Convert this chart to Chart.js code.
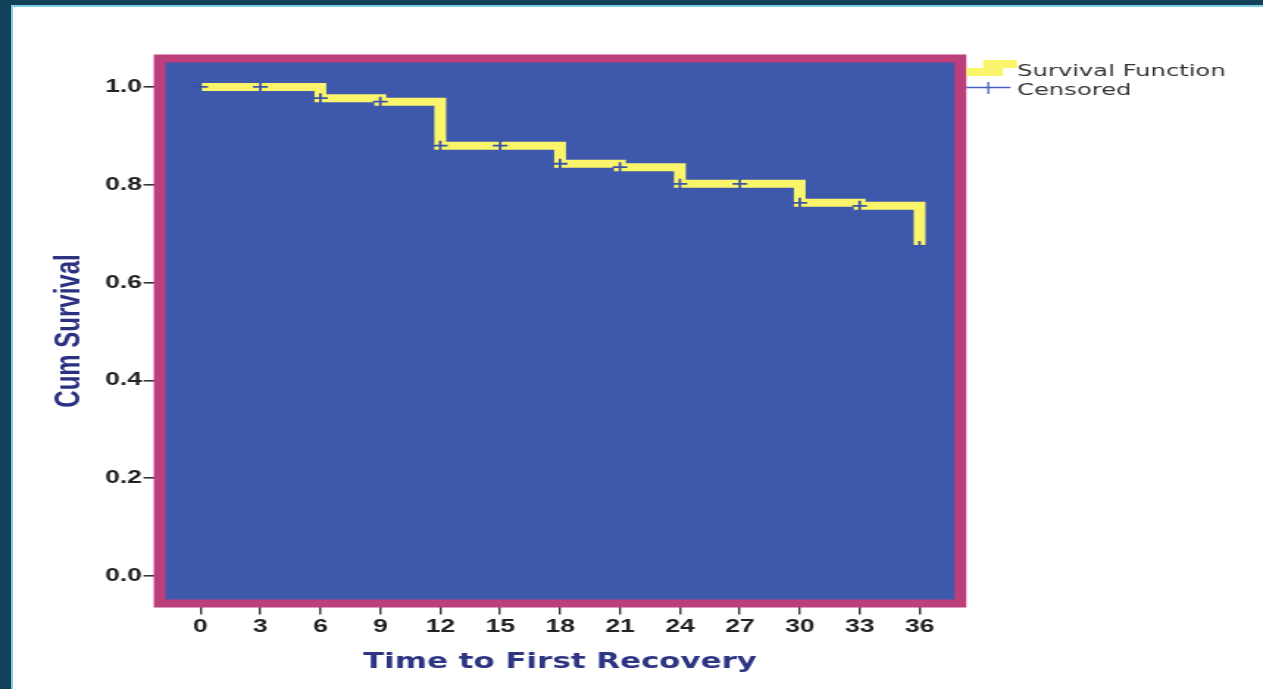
<!DOCTYPE html>
<html>
<head>
<meta charset="utf-8">
<script src="https://cdn.jsdelivr.net/npm/chart.js@4.4.1/dist/chart.umd.min.js"></script>
<style>
  html, body { margin:0; padding:0; width:1263px; height:689px; overflow:hidden; background:#12405a; }
  #page { position:absolute; left:11px; top:5px; width:1252px; height:684px; background:#ffffff;
          border-left:2px solid #7fcfe0; border-top:2px solid #7fcfe0; }
  #c { position:absolute; left:0; top:0; width:1263px !important; height:689px !important; }
</style>
</head>
<body>
<div id="page"></div>
<canvas id="c" width="859" height="689" style="width:1263px;height:689px"></canvas>
<script>
// ---- data ----
const xTickValues = [0, 3, 6, 9, 12, 15, 18, 21, 24, 27, 30, 33, 36];
const yTickValues = [0.0, 0.2, 0.4, 0.6, 0.8, 1.0];
const eventTimes = [0, 6, 9, 12, 18, 21, 24, 30, 33, 36];
const survivalValues = [1.0, 0.977, 0.970, 0.880, 0.843, 0.836, 0.802, 0.763, 0.757, 0.675];
const censorTimes = [0, 3, 6, 9, 12, 15, 18, 21, 24, 27, 30, 33, 36];
const censorValues = [1.0, 1.0, 0.977, 0.970, 0.880, 0.880, 0.843, 0.836, 0.802, 0.802, 0.763, 0.757, 0.675];
const legendLabels = ['Survival Function', 'Censored'];
const xTitle = 'Time to First Recovery';
const yTitle = 'Cum Survival';

const framePlugin = {
  id: 'frame',
  beforeDatasetsDraw(chart) {
    const { ctx, chartArea: a } = chart;
    ctx.save();
    ctx.fillStyle = '#bc3e7b';
    ctx.fillRect(a.left - 8, a.top - 8, a.right - a.left + 16, a.bottom - a.top + 16);
    ctx.fillStyle = '#3e59ab';
    ctx.fillRect(a.left, a.top, a.right - a.left, a.bottom - a.top);
    ctx.restore();
  }
};

const legendPlugin = {
  id: 'kmLegend',
  afterDraw(chart) {
    const { ctx, chartArea: a } = chart;
    const x0 = a.right + 8;
    ctx.save();
    ctx.fillStyle = '#fbf56c';
    ctx.fillRect(x0, 68, 25, 8);
    ctx.fillRect(x0 + 11.5, 60, 23, 8);
    ctx.strokeStyle = '#4a5fc0';
    ctx.lineWidth = 1.3;
    ctx.beginPath();
    ctx.moveTo(x0, 87.5); ctx.lineTo(x0 + 30, 87.5);
    ctx.moveTo(x0 + 15, 82); ctx.lineTo(x0 + 15, 94);
    ctx.stroke();
    ctx.fillStyle = '#333333';
    ctx.font = '16.5px "DejaVu Sans"';
    ctx.textBaseline = 'alphabetic';
    ctx.fillText(legendLabels[0], x0 + 34.5, 75.5);
    ctx.fillText(legendLabels[1], x0 + 34.5, 95);
    ctx.restore();
  }
};

new Chart(document.getElementById('c'), {
  type: 'line',
  data: {
    datasets: [
      {
        label: legendLabels[1],
        data: censorTimes.map((t, i) => ({ x: t, y: censorValues[i] })),
        showLine: false,
        pointStyle: 'cross',
        pointRadius: 5,
        pointBorderWidth: 1.8,
        pointBorderColor: '#3a54a8',
        pointBackgroundColor: '#3a54a8',
        order: 0
      },
      {
        label: legendLabels[0],
        data: eventTimes.map((t, i) => ({ x: t, y: survivalValues[i] })),
        stepped: 'before',
        borderColor: '#fbf56c',
        borderWidth: 8,
        borderCapStyle: 'butt',
        borderJoinStyle: 'miter',
        pointRadius: 0,
        fill: false,
        order: 1
      }
    ]
  },
  options: {
    responsive: false,
    animation: false,
    events: [],
    layout: { padding: { left: 0, top: 62.5, right: 209.8, bottom: 0 } },
    plugins: { legend: { display: false }, tooltip: { enabled: false } },
    scales: {
      x: {
        type: 'linear',
        min: -1.75,
        max: 37.75,
        afterBuildTicks(s) { s.ticks = xTickValues.map(v => ({ value: v })); },
        afterFit(s) { s.height = 89.5; },
        grid: { drawOnChartArea: false, drawTicks: true, tickLength: 15, color: '#333333', lineWidth: 1.4 },
        border: { display: false },
        ticks: {
          autoSkip: false, maxRotation: 0, padding: 2, color: '#222222',
          font: { family: 'Liberation Sans', size: 18, weight: 'bold' },
          callback: v => String(v)
        },
        title: {
          display: true, text: xTitle, color: '#2d3582',
          font: { family: 'DejaVu Sans', size: 21, weight: 'bold' },
          padding: { top: 0, bottom: 14 }
        }
      },
      y: {
        type: 'linear',
        min: -0.048,
        max: 1.05,
        afterBuildTicks(s) { s.ticks = yTickValues.map(v => ({ value: v })); },
        afterFit(s) { s.width = 112.6; },
        grid: { drawOnChartArea: false, drawTicks: true, tickLength: 15, color: '#333333', lineWidth: 1.6 },
        border: { display: false },
        ticks: {
          padding: 1, color: '#222222',
          font: { family: 'Liberation Sans', size: 18, weight: 'bold' },
          callback: v => Number(v).toFixed(1)
        },
        title: {
          display: true, text: yTitle, color: '#2b3080',
          font: { family: 'Liberation Sans', size: 24, weight: 'bold' },
          padding: { top: 33, bottom: 0 }
        }
      }
    }
  },
  plugins: [framePlugin, legendPlugin]
});
</script>
</body>
</html>
